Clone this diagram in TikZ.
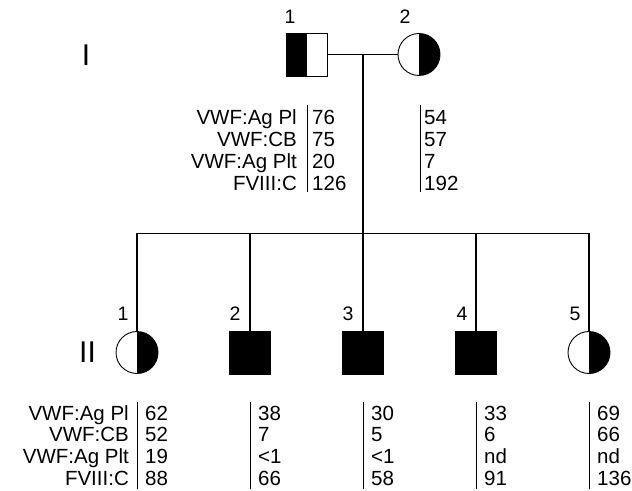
\documentclass[tikz,border=0pt]{standalone}
\usepackage{fontspec}
\setmainfont{Liberation Sans}

\tikzset{
  male/.style={draw, rectangle, line width=0.9pt, minimum width=41bp, minimum height=43bp, inner sep=0pt},
  female/.style={draw, circle, line width=0.9pt, minimum size=42bp, inner sep=0pt},
  lefthalf/.style={path picture={\fill[black] (path picture bounding box.south west) rectangle (path picture bounding box.north);}},
  righthalf/.style={path picture={\fill[black] (path picture bounding box.south) rectangle (path picture bounding box.north east);}},
  idnum/.style={font=\fontsize{19.5bp}{19.5bp}\selectfont, inner sep=0pt},
  gen/.style={font=\fontsize{30bp}{30bp}\selectfont, inner sep=0pt},
  datum/.style={font=\fontsize{20.5bp}{21.7bp}\selectfont, inner sep=0pt},
  rule/.style={line width=0.7pt},
  kin/.style={line width=1.4pt},
  drop/.style={line width=1.1pt},
}

\begin{document}
\begin{tikzpicture}[x=1bp, y=-1bp]
  \useasboundingbox (0,0) rectangle (632,491);

  % Generation I: parents.
  \node[male, lefthalf] (i1) at (307,54.5) {};
  \node[female, righthalf] (i2) at (419,54.5) {};
  \node[idnum] (i1n) at (290,16.5) {1};
  \node[idnum] (i2n) at (405,16.5) {2};
  \node[gen] (g1) at (86,55) {I};

  % Generation II: children.
  \node[female, righthalf] (c1) at (137,352.5) {};
  \node[male, fill=black] (c2) at (250,352.5) {};
  \node[male, fill=black] (c3) at (363,352.5) {};
  \node[male, fill=black] (c4) at (476,352.5) {};
  \node[female, righthalf] (c5) at (589,352.5) {};
  \foreach \i/\x in {1/123, 2/235, 3/348, 4/462, 5/575}
    \node[idnum] (c\i n) at (\x,314) {\i};
  \node[gen] (g2) at (87.5,352.5) {II};

  % Marriage, descent and sibship lines.
  \coordinate (sib) at (363,233.5);
  \draw[kin] (i1) -- (i2);
  \draw[kin, line width=1.8pt] (i1 -| c3) -- (sib);
  \draw[kin, line width=1.8pt] (c1 |- sib) -- (c5 |- sib);
  \foreach \i in {1,...,5}
    \draw[drop] (c\i |- sib) -- (c\i.north);

  % Laboratory values, generation I.
  \foreach \lab [count=\r] in {VWF:Ag Pl, VWF:CB, VWF:Ag Plt, FVIII:C} {
    \node[datum, anchor=base east] (ilab\r) at (297, {103.3+21.7*\r}) {\lab};
    \node[datum, anchor=base east] (iilab\r) at (129, {398.3+21.7*\r}) {\lab};
  }
  \foreach \v [count=\r] in {76, 75, 20, 126}
    \node[datum, anchor=base west] (i1v\r) at (312, {103.3+21.7*\r}) {\v};
  \foreach \v [count=\r] in {54, 57, 7, 192}
    \node[datum, anchor=base west] (i2v\r) at (424, {103.3+21.7*\r}) {\v};
  \draw[rule] (307,105) -- (307,192);
  \draw[rule] (420,105) -- (420,192);

  % Laboratory values, generation II.
  \foreach \x/\vals [count=\k] in {137/{62,52,19,88}, 250/{38,7,<1,66},
      363/{30,5,<1,58}, 476/{33,6,nd,91}, 589/{69,66,nd,136}} {
    \draw[rule] (\x,402) -- (\x,489);
    \foreach \v [count=\r] in \vals
      \node[datum, anchor=base west] (c\k v\r) at (\x+8, {398.3+21.7*\r}) {\v};
  }

\end{tikzpicture}
\end{document}
